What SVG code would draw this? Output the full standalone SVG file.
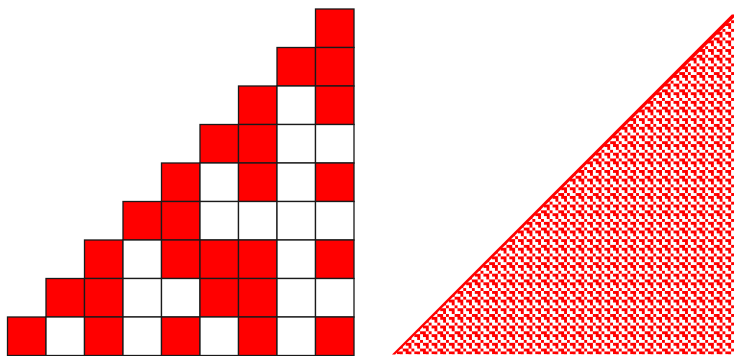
<svg xmlns="http://www.w3.org/2000/svg" width="734" height="356" viewBox="0 0 734 356">
<style>
.r{fill:#ff0000;stroke:#1a1a1a;stroke-width:1.3}
.w{fill:#ffffff;stroke:#1a1a1a;stroke-width:1.3}
.t{fill:#ff0000}
</style>
<defs>
<pattern id="tex" patternUnits="userSpaceOnUse" x="734" y="14.5" width="17.28" height="17.28">
<rect class="t" x="0" y="0" width="5.76" height="2.9"/>
<rect class="t" x="8.64" y="0" width="5.76" height="2.9"/>
<rect class="t" x="2.88" y="2.88" width="2.88" height="2.9"/>
<rect class="t" x="11.52" y="2.88" width="2.88" height="2.9"/>
<rect class="t" x="0" y="5.76" width="2.88" height="2.9"/>
<rect class="t" x="5.76" y="5.76" width="2.88" height="2.9"/>
<rect class="t" x="14.4" y="5.76" width="2.88" height="2.9"/>
<rect class="t" x="0" y="8.64" width="5.76" height="2.9"/>
<rect class="t" x="8.64" y="8.64" width="5.76" height="2.9"/>
<rect class="t" x="2.88" y="11.52" width="2.88" height="2.9"/>
<rect class="t" x="11.52" y="11.52" width="2.88" height="2.9"/>
<rect class="t" x="5.76" y="14.4" width="2.88" height="2.88"/>
<rect class="t" x="14.4" y="14.4" width="2.88" height="2.88"/>
</pattern>
<clipPath id="tri"><polygon points="734,14.5 394.16,354.34 734,354.34"/></clipPath>
</defs>
<rect width="734" height="356" fill="#ffffff"/>
<g id="small-triangle">
<rect class="r" x="315.5" y="9" width="38.5" height="38.5"/>
<rect class="r" x="277" y="47.5" width="38.5" height="38.5"/>
<rect class="r" x="315.5" y="47.5" width="38.5" height="38.5"/>
<rect class="r" x="238.5" y="86" width="38.5" height="38.5"/>
<rect class="w" x="277" y="86" width="38.5" height="38.5"/>
<rect class="r" x="315.5" y="86" width="38.5" height="38.5"/>
<rect class="r" x="200" y="124.5" width="38.5" height="38.5"/>
<rect class="r" x="238.5" y="124.5" width="38.5" height="38.5"/>
<rect class="w" x="277" y="124.5" width="38.5" height="38.5"/>
<rect class="w" x="315.5" y="124.5" width="38.5" height="38.5"/>
<rect class="r" x="161.5" y="163" width="38.5" height="38.5"/>
<rect class="w" x="200" y="163" width="38.5" height="38.5"/>
<rect class="r" x="238.5" y="163" width="38.5" height="38.5"/>
<rect class="w" x="277" y="163" width="38.5" height="38.5"/>
<rect class="r" x="315.5" y="163" width="38.5" height="38.5"/>
<rect class="r" x="123" y="201.5" width="38.5" height="38.5"/>
<rect class="r" x="161.5" y="201.5" width="38.5" height="38.5"/>
<rect class="w" x="200" y="201.5" width="38.5" height="38.5"/>
<rect class="w" x="238.5" y="201.5" width="38.5" height="38.5"/>
<rect class="w" x="277" y="201.5" width="38.5" height="38.5"/>
<rect class="w" x="315.5" y="201.5" width="38.5" height="38.5"/>
<rect class="r" x="84.5" y="240" width="38.5" height="38.5"/>
<rect class="w" x="123" y="240" width="38.5" height="38.5"/>
<rect class="r" x="161.5" y="240" width="38.5" height="38.5"/>
<rect class="r" x="200" y="240" width="38.5" height="38.5"/>
<rect class="r" x="238.5" y="240" width="38.5" height="38.5"/>
<rect class="w" x="277" y="240" width="38.5" height="38.5"/>
<rect class="r" x="315.5" y="240" width="38.5" height="38.5"/>
<rect class="r" x="46" y="278.5" width="38.5" height="38.5"/>
<rect class="r" x="84.5" y="278.5" width="38.5" height="38.5"/>
<rect class="w" x="123" y="278.5" width="38.5" height="38.5"/>
<rect class="w" x="161.5" y="278.5" width="38.5" height="38.5"/>
<rect class="r" x="200" y="278.5" width="38.5" height="38.5"/>
<rect class="r" x="238.5" y="278.5" width="38.5" height="38.5"/>
<rect class="w" x="277" y="278.5" width="38.5" height="38.5"/>
<rect class="w" x="315.5" y="278.5" width="38.5" height="38.5"/>
<rect class="r" x="7.5" y="317" width="38.5" height="38.5"/>
<rect class="w" x="46" y="317" width="38.5" height="38.5"/>
<rect class="r" x="84.5" y="317" width="38.5" height="38.5"/>
<rect class="w" x="123" y="317" width="38.5" height="38.5"/>
<rect class="r" x="161.5" y="317" width="38.5" height="38.5"/>
<rect class="w" x="200" y="317" width="38.5" height="38.5"/>
<rect class="r" x="238.5" y="317" width="38.5" height="38.5"/>
<rect class="w" x="277" y="317" width="38.5" height="38.5"/>
<rect class="r" x="315.5" y="317" width="38.5" height="38.5"/>
</g>
<g id="large-triangle">
<rect x="394" y="14" width="340" height="341" fill="url(#tex)" clip-path="url(#tri)"/>
<polygon class="t" points="731.8,14.5 734,14.5 734,17.5 395.16,354.5 392,354.5"/>
</g>
</svg>
